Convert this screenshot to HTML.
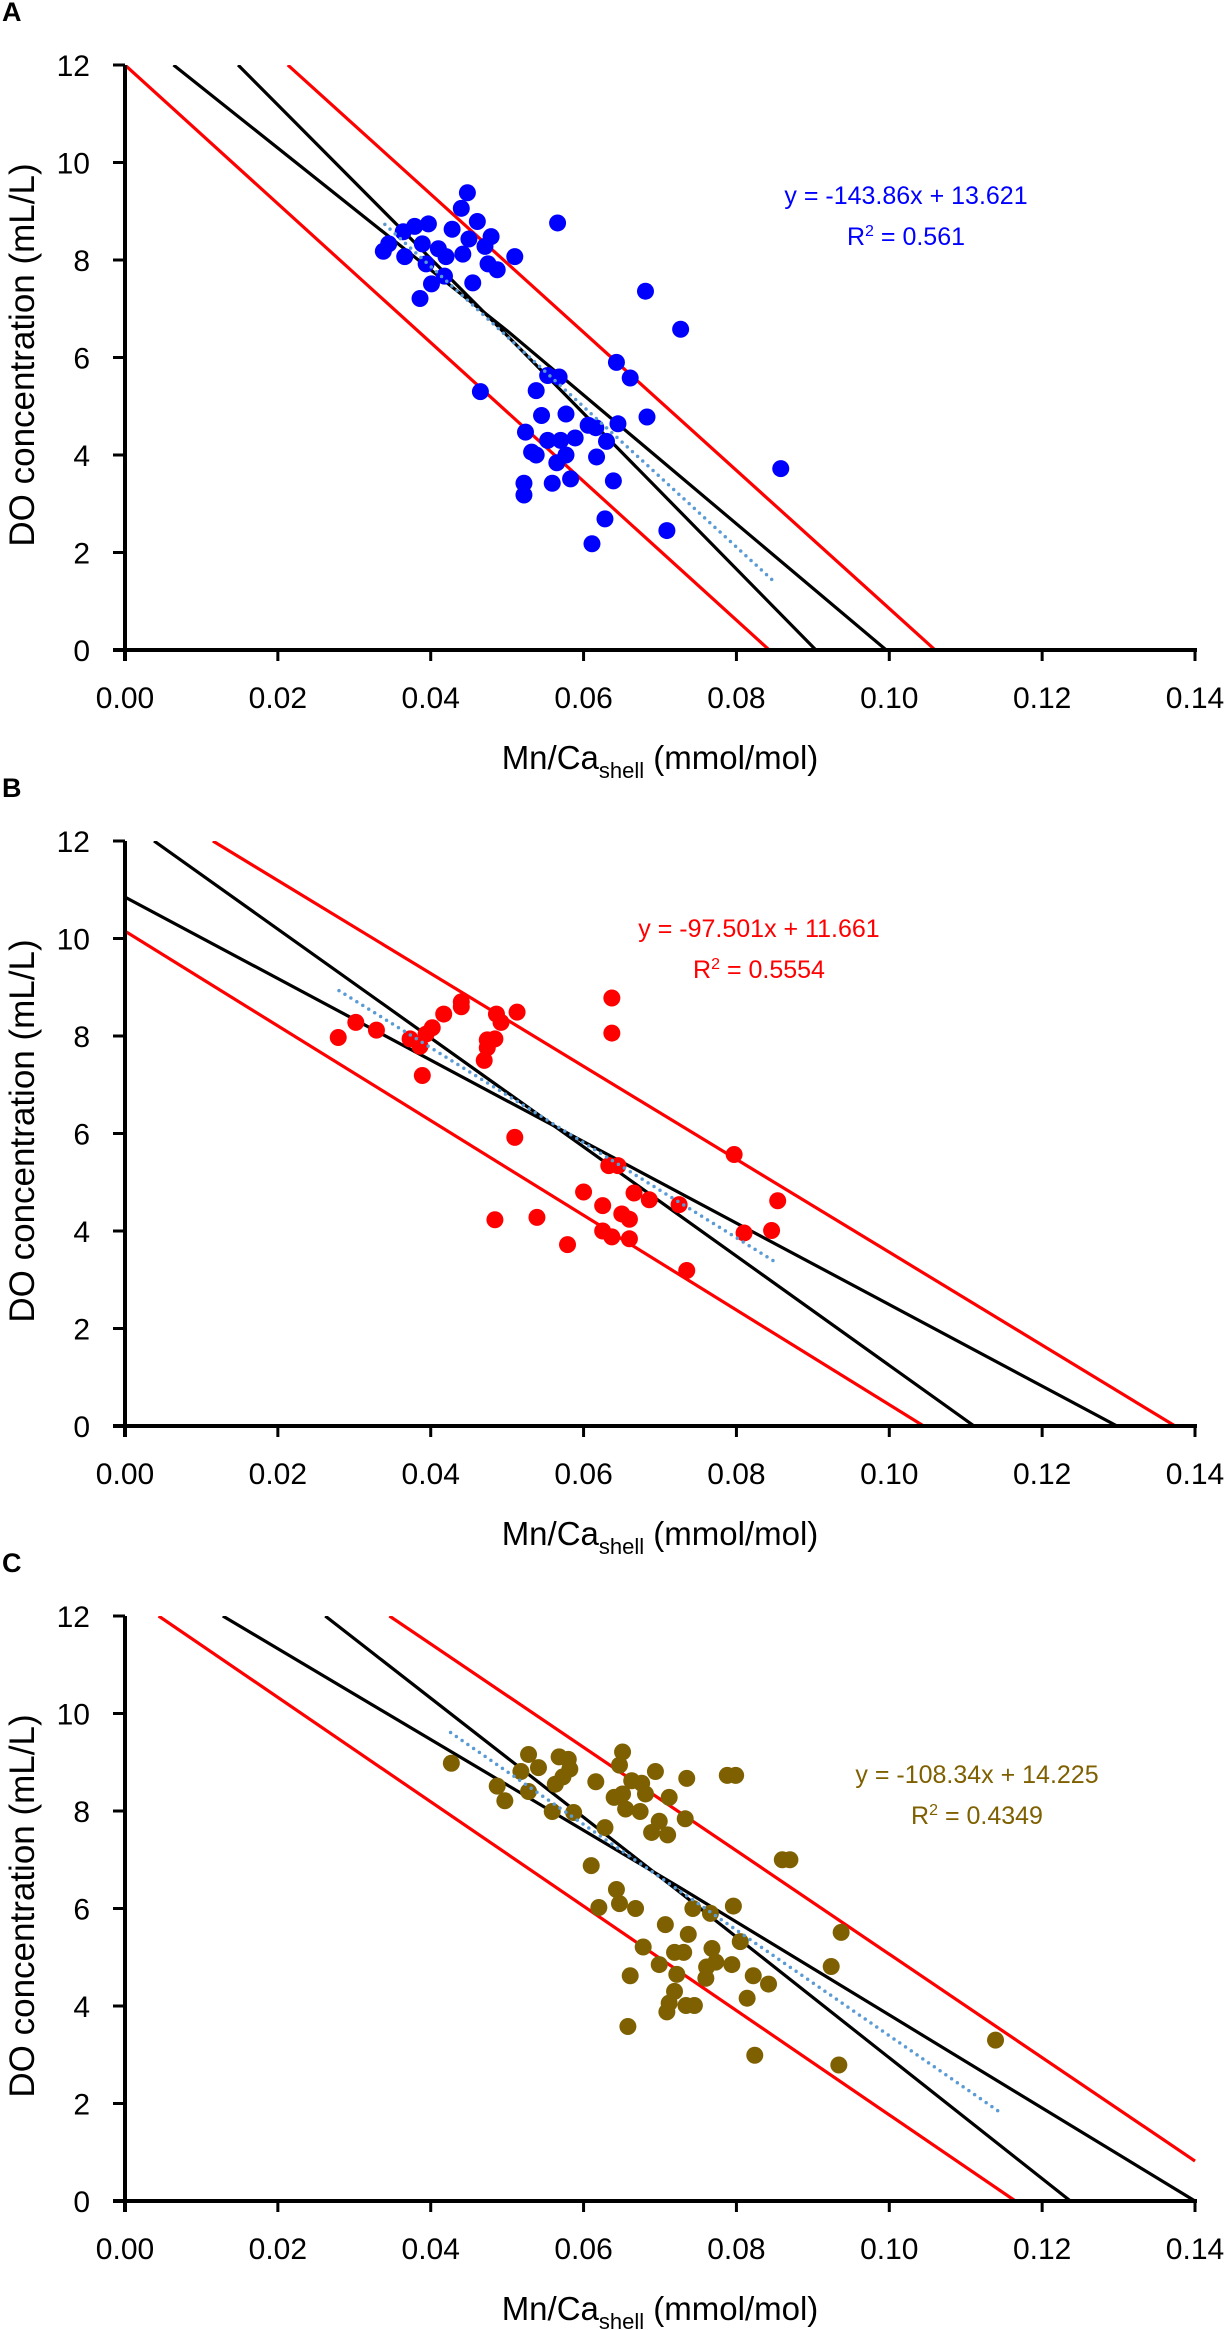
<!DOCTYPE html>
<html><head><meta charset="utf-8"><style>
html,body{margin:0;padding:0;background:#fff;}
svg{display:block;font-family:"Liberation Sans",sans-serif;}
</style></head><body>
<svg id="chart" width="1227" height="2330" viewBox="0 0 1227 2330"></svg>
<script>
// ---- Panel A data ----
const aX = [0.0338,0.0345,0.0364,0.0366,0.0379,0.0397,0.0389,0.0386,0.0401,0.0394,0.0410,0.0418,0.0420,0.0428,0.0440,0.0448,0.0442,0.0450,0.0461,0.0455,0.0471,0.0479,0.0475,0.0487,0.0510,0.0566,0.0465,0.0524,0.0532,0.0538,0.0522,0.0522,0.0538,0.0545,0.0553,0.0568,0.0553,0.0570,0.0565,0.0559,0.0577,0.0577,0.0583,0.0589,0.0606,0.0616,0.0617,0.0611,0.0630,0.0628,0.0639,0.0643,0.0645,0.0661,0.0683,0.0681,0.0727,0.0709,0.0858];
const aY = [8.18,8.33,8.58,8.07,8.69,8.74,8.33,7.21,7.51,7.92,8.23,7.67,8.07,8.63,9.06,9.38,8.12,8.43,8.79,7.53,8.28,8.48,7.92,7.80,8.07,8.76,5.30,4.47,4.06,4.00,3.42,3.18,5.32,4.81,5.63,5.60,4.30,4.30,3.84,3.42,4.84,4.00,3.51,4.35,4.61,4.56,3.96,2.18,4.28,2.69,3.47,5.90,4.64,5.58,4.78,7.36,6.58,2.45,3.72];
const aFit = [-143.86, 13.621];
const aFitRange = [0.034, 0.085];
const aRedLo = [[0,12],[0.0843,0]];
const aRedHi = [[0.0213,12],[0.106,0]];
const aBlk1 = [[0.00635,12],[0.050,6.55],[0.0996,0]];
const aBlk2 = [[0.0148,12],[0.050,6.45],[0.0904,0]];
// ---- Panel B data ----
const bX = [0.0279,0.0302,0.0329,0.0373,0.0386,0.0389,0.0394,0.0402,0.0417,0.0440,0.0440,0.0470,0.0474,0.0474,0.0484,0.0486,0.0492,0.0484,0.0510,0.0513,0.0539,0.0579,0.0600,0.0625,0.0625,0.0633,0.0637,0.0637,0.0637,0.0645,0.0650,0.0660,0.0660,0.0666,0.0686,0.0725,0.0735,0.0797,0.0810,0.0846,0.0854];
const bY = [7.97,8.28,8.12,7.94,7.79,7.19,8.04,8.17,8.45,8.70,8.60,7.50,7.76,7.92,7.94,8.45,8.28,4.23,5.92,8.49,4.28,3.72,4.80,4.52,4.00,5.34,8.78,8.06,3.88,5.34,4.35,4.24,3.84,4.78,4.64,4.54,3.19,5.57,3.96,4.01,4.62];
const bFit = [-97.501, 11.661];
const bFitRange = [0.028, 0.085];
const bRedLo = [[0,10.15],[0.1045,0]];
const bRedHi = [[0.0115,12],[0.1374,0]];
const bBlk1 = [[0.0038,12],[0.058,5.95],[0.1111,0]];
const bBlk2 = [[0,10.85],[0.058,6.0],[0.1298,0]];
// ---- Panel C data ----
const cX = [0.0427,0.0487,0.0497,0.0518,0.0528,0.0528,0.0541,0.0559,0.0563,0.0568,0.0573,0.0580,0.0582,0.0587,0.0610,0.0616,0.0620,0.0628,0.0640,0.0643,0.0647,0.0647,0.0651,0.0651,0.0655,0.0661,0.0658,0.0663,0.0668,0.0674,0.0676,0.0681,0.0678,0.0689,0.0694,0.0699,0.0699,0.0707,0.0710,0.0712,0.0709,0.0712,0.0719,0.0719,0.0722,0.0731,0.0733,0.0735,0.0737,0.0734,0.0745,0.0743,0.0761,0.0760,0.0766,0.0768,0.0773,0.0788,0.0799,0.0794,0.0796,0.0805,0.0814,0.0822,0.0824,0.0842,0.0860,0.0870,0.0924,0.0934,0.0937,0.1139];
const cY = [8.98,8.51,8.21,8.81,9.16,8.40,8.89,7.99,8.55,9.11,8.70,9.06,8.86,7.97,6.88,8.60,6.02,7.66,8.28,6.39,6.10,8.94,9.21,8.35,8.04,4.62,3.58,8.62,6.00,7.99,8.57,8.35,5.21,7.56,8.81,4.85,7.79,5.67,7.51,8.28,3.88,4.06,5.10,4.30,4.65,5.10,7.84,8.67,5.47,4.01,4.01,6.00,4.80,4.57,5.90,5.18,4.90,8.73,8.73,4.85,6.05,5.32,4.16,4.62,2.99,4.45,7.00,7.00,4.81,2.79,5.51,3.30];
const cFit = [-108.34, 14.225];
const cFitRange = [0.0426, 0.1143];
const cRedLo = [[0.0044,12],[0.1165,0]];
const cRedHi = [[0.0346,12],[0.14,0.82]];
const cBlk1 = [[0.0128,12],[0.0727,6.42],[0.14,0]];
const cBlk2 = [[0.0262,12],[0.0727,6.32],[0.1237,0]];

const xTicks = ["0.00","0.02","0.04","0.06","0.08","0.10","0.12","0.14"];
const yTicks = ["0","2","4","6","8","10","12"];

const NS = "http://www.w3.org/2000/svg";
const svg = document.getElementById("chart");
function mk(tag, attrs, parent){
  const e = document.createElementNS(NS, tag);
  for (const k in attrs) e.setAttribute(k, attrs[k]);
  (parent||svg).appendChild(e);
  return e;
}
const X0 = 125, X1 = 1195;
function sx(v){ return X0 + v/0.14*(X1-X0); }

function panel(letter, top, xs, ys, fit, fitRange, redLo, redHi, blk1, blk2, color, eqText, r2Text, eqX, eqY){
  const bot = top + 585;
  const sy = v => bot - v/12*585;
  const g = mk("g", {});
  
  
  const lt = mk("text", {x:2, y: top - 44, "font-size":27, "font-weight":"bold", fill:"#000"}, g);
  lt.textContent = letter;
  
  
  xTicks.forEach(t => {
    const px = sx(parseFloat(t));
    const tk = mk("line", {x1:px, x2:px, y1:bot, y2:bot+11, stroke:"#000", "stroke-width":3}, g);
    
    
    const tl = mk("text", {x:px, y:bot+58, "font-size":30, "text-anchor":"middle", fill:"#000"}, g);
    tl.textContent = t;
    
    
  });
  yTicks.forEach(t => {
    const py = sy(parseFloat(t));
    const tk = mk("line", {x1:X0-12, x2:X0, y1:py, y2:py, stroke:"#000", "stroke-width":3}, g);
    
    
    const tl = mk("text", {x:90, y:py+11, "font-size":30, "text-anchor":"end", fill:"#000"}, g);
    tl.textContent = t;
    
    
  });
  const clip = "clip"+letter;
  const cp = mk("clipPath", {id:clip}, g);
  mk("rect", {x:X0, y:top, width:X1-X0+2, height:585}, cp);
  const pl = (pts, col, w, name) => {
    const p = mk("polyline", {points: pts.map(q => sx(q[0])+","+sy(q[1])).join(" "), fill:"none", stroke:col, "stroke-width":w, "clip-path":"url(#"+clip+")"}, g);
    
    
  };
  pl(redLo, "#ff0000", 3.2, "prediction-band-lower");
  pl(redHi, "#ff0000", 3.2, "prediction-band-upper");
  pl(blk1, "#000", 3.2, "confidence-band-1");
  pl(blk2, "#000", 3.2, "confidence-band-2");
  xs.forEach((v,i) => {
    const c = mk("circle", {cx:sx(v), cy:sy(ys[i]), r:8.5, fill:color}, g);
    
    
  });
  const fl = mk("line", {x1:sx(fitRange[0]), y1:sy(fit[0]*fitRange[0]+fit[1]), x2:sx(fitRange[1]), y2:sy(fit[0]*fitRange[1]+fit[1]), stroke:"#5b9bd5", "stroke-width":3.5, "stroke-dasharray":"0 7", "stroke-linecap":"round"}, g);
  
  
  const ya = mk("line", {x1:X0, x2:X0, y1:top, y2:bot+11, stroke:"#000", "stroke-width":4}, g);
  
  
  const xa = mk("line", {x1:X0-12, x2:X1+2, y1:bot, y2:bot, stroke:"#000", "stroke-width":4}, g);
  
  
  const eq = mk("text", {x:eqX, y:eqY, "font-size":25, "text-anchor":"middle", fill:color}, g);
  eq.textContent = eqText;
  
  
  const r2 = mk("text", {x:eqX, y:eqY+41, "font-size":25, "text-anchor":"middle", fill:color}, g);
  r2.innerHTML = 'R<tspan dy="-9" font-size="16">2</tspan><tspan dy="9"> = ' + r2Text + '</tspan>';
  
  
  const yt = mk("text", {x:0, y:0, "font-size":35, "text-anchor":"middle", fill:"#000", transform:"translate(34,"+(top+290)+") rotate(-90)"}, g);
  yt.textContent = "DO concentration (mL/L)";
  
  
  const xt = mk("text", {x:660, y:bot+119, "font-size":33, "text-anchor":"middle", fill:"#000"}, g);
  xt.innerHTML = 'Mn/Ca<tspan dy="9" font-size="22">shell</tspan><tspan dy="-9"> (mmol/mol)</tspan>';
  
  
}
panel("A", 65, aX, aY, aFit, aFitRange, aRedLo, aRedHi, aBlk1, aBlk2, "#0000ff", "y = -143.86x + 13.621", "0.561", 906, 204);
panel("B", 841, bX, bY, bFit, bFitRange, bRedLo, bRedHi, bBlk1, bBlk2, "#ff0000", "y = -97.501x + 11.661", "0.5554", 759, 937);
panel("C", 1616, cX, cY, cFit, cFitRange, cRedLo, cRedHi, cBlk1, cBlk2, "#7f6000", "y = -108.34x + 14.225", "0.4349", 977, 1783);
</script>
</body></html>
